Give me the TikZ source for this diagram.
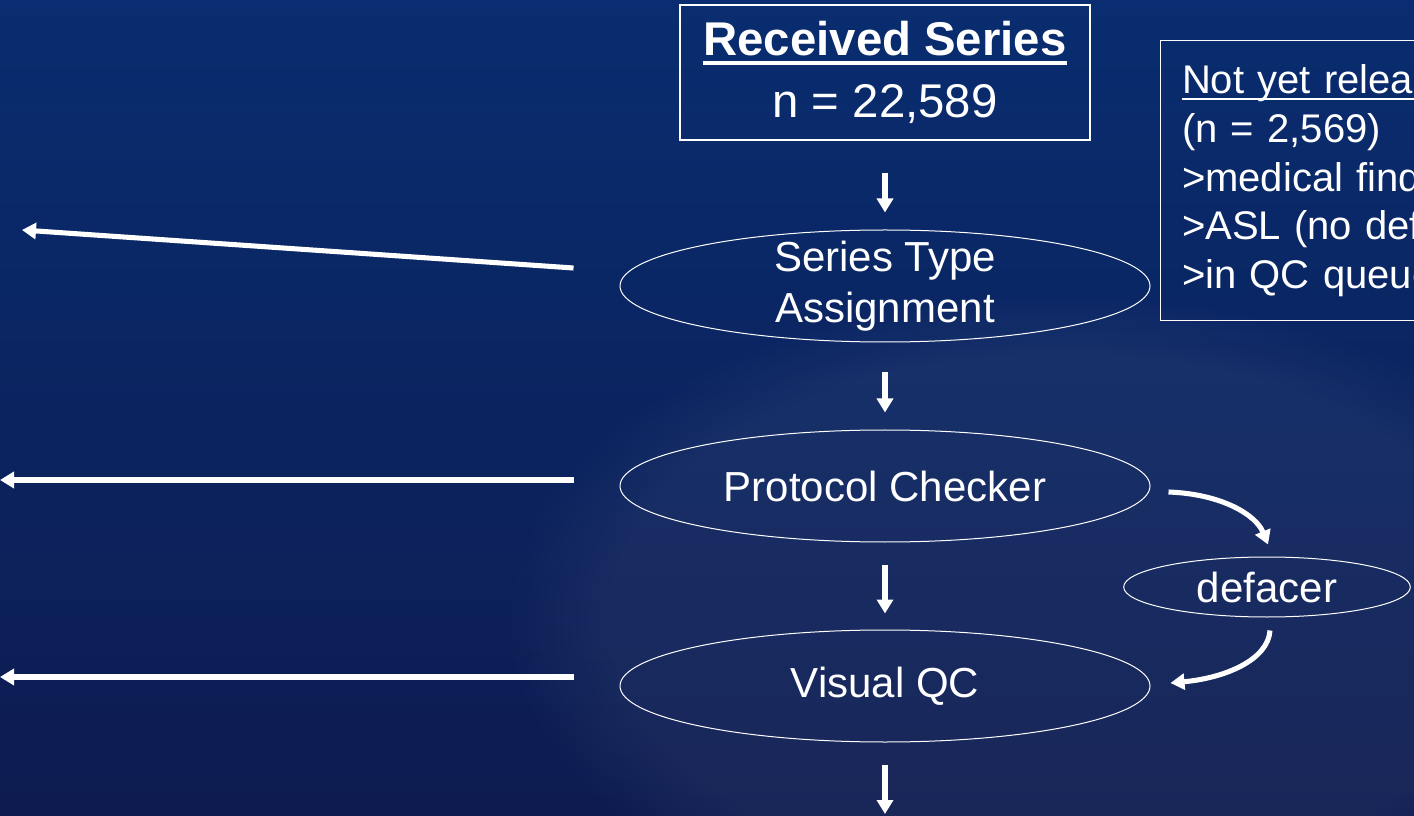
\documentclass[tikz,border=0pt]{standalone}
\usepackage{fontspec}
\setmainfont{Liberation Sans}
\usetikzlibrary{shapes.geometric,arrows.meta,fadings}

\definecolor{bgtop}{RGB}{9,45,112}
\definecolor{bgbot}{RGB}{13,27,80}

\newcommand{\ulbar}[3]{\begingroup\setbox0\hbox{#3}\leavevmode\rlap{\raisebox{#1}{\rule{\wd0}{#2}}}\box0\endgroup}

\tikzset{every picture/.style={line width=0.75pt}}
\tikzset{
  stage/.style={draw=white, line width=0.75pt, ellipse, inner sep=0pt, minimum width=397.5pt, minimum height=84pt, text=white, align=center, font=\fontsize{31.5}{37.5}\selectfont},
  flow/.style={draw=white, line width=3.8pt, -{Triangle[width=12pt,length=10.5pt]}},
  panel/.style={draw=white, line width=1pt, text=white, inner sep=0pt}
}

\begin{document}
\begin{tikzpicture}[x=0.75pt,y=0.75pt,yscale=-1,xscale=1]
        \useasboundingbox (0,0) rectangle (1414,816);
        \clip (0,0) rectangle (1414,816);

        %Background
        \fill [top color=bgtop, bottom color=bgbot] (0,0) rectangle (1414,816);
        \fill [white, opacity=0.05, path fading=circle with fuzzy edge 20 percent] (1060,620) ellipse (560 and 330);

        %Boxes
        \node [panel, minimum width=307.5pt, minimum height=101.25pt, align=center, font=\fontsize{35.5}{46}\selectfont] (recv) at (885,72.5) {\ulbar{-6.5pt}{2.6pt}{\textbf{Received Series}}\\n = 22,589};
        \node [panel, anchor=north west, minimum width=330pt, minimum height=210pt, text width=300pt, align=left, inner xsep=16pt, font=\fontsize{30}{36.5}\selectfont] (held) at (1160,40) {\ulbar{-4.5pt}{1.5pt}{Not yet released}\\(n = 2,569)\\>medical findings\\>ASL (no defacer)\\>in QC queue};

        %Ellipses
        \node [stage, inner ysep=-6pt, font=\fontsize{31.5}{38}\selectfont] (assign) at (885,286) {\raisebox{-4pt}{Series Type}\\\raisebox{-4pt}{Assignment}};
        \node [stage] (check) at (885,486) {Protocol Checker};
        \node [stage] (vqc) at (885,686) {Visual QC};
        \node [stage, minimum width=215pt, minimum height=45pt] (defacer) at (1267,587) {defacer};

        %Down arrows
        \draw [flow, shorten <=24pt, shorten >=12.75pt] (recv) -- (assign);
        \draw [flow, shorten <=22.5pt, shorten >=12.75pt] (assign) -- (check);
        \draw [flow, shorten <=17pt, shorten >=12pt] (check) -- (vqc);
        \coordinate (pass) at (885,814);
        \draw [flow, shorten <=17pt] (vqc) -- (pass);

        %Left arrows
        \coordinate (rejA) at (22,230);
        \coordinate (rejB) at (0,480);
        \coordinate (rejC) at (0,677);
        \draw [flow] ([shift={(-46,-18)}]assign.west) -- (rejA);
        \draw [flow] ([shift={(-46,-6)}]check.west) -- (rejB);
        \draw [flow] ([shift={(-46,-9)}]vqc.west) -- (rejC);

        %Defacer loop
        \draw [flow] ([shift={(18,6)}]check.east) .. controls (1222,494) and (1256,515) .. ([shift={(1,-12)}]defacer.north);
        \draw [flow] ([shift={(3,13)}]defacer.south) .. controls (1268,660) and (1225,678) .. ([shift={(20,-3)}]vqc.east);

\end{tikzpicture}
\end{document}
